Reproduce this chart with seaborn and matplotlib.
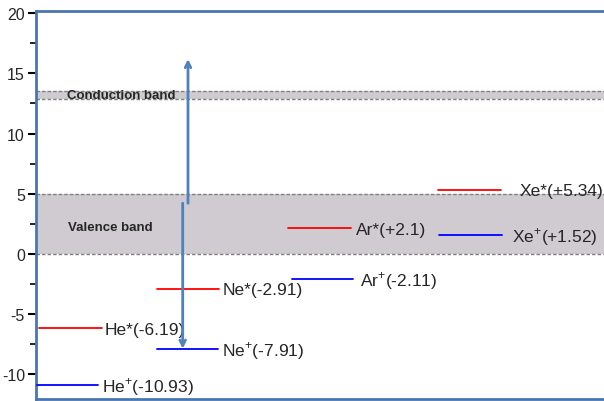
import matplotlib
matplotlib.use("Agg")
import matplotlib.pyplot as plt
import seaborn as sns
import pandas as pd

# Energy levels of excited (*) and ionized (+) rare-gas species, eV
species = ["He", "He", "Ne", "Ne", "Ar", "Ar", "Xe", "Xe"]
kinds = ["excited", "ion", "excited", "ion", "excited", "ion", "excited", "ion"]
energies = [-6.19, -10.93, -2.91, -7.91, 2.1, -2.11, 5.34, 1.52]
labels = [r"He*(-6.19)", r"He$^{+}$(-10.93)", r"Ne*(-2.91)", r"Ne$^{+}$(-7.91)",
          r"Ar*(+2.1)", r"Ar$^{+}$(-2.11)", r"Xe*(+5.34)", r"Xe$^{+}$(+1.52)"]

# Band edges, eV
valence_band = [0.0, 5.0]
conduction_band = [12.9, 13.5]

# Transition arrows (start, end energies)
arrow_up = [4.2, 16.2]
arrow_down = [4.2, -7.91]

# horizontal layout of each level segment (x start, x end, label x)
seg_x0 = [3.3, 0.7, 120.7, 120.7, 252.3, 255.7, 402.3, 403.3]
seg_x1 = [65.7, 62.3, 183.3, 182.3, 314.7, 317.3, 464.7, 465.7]
lab_x = [68.5, 66.5, 187, 186.5, 319.5, 323.5, 483.5, 476.5]

sns.set_theme(style="white")
plt.rcParams["font.family"] = ["Liberation Sans", "DejaVu Sans"]
plt.rcParams["mathtext.fontset"] = "custom"
plt.rcParams["mathtext.rm"] = "Liberation Sans"
plt.rcParams["axes.unicode_minus"] = False

fig = plt.figure(figsize=(6.04, 4.02), dpi=100)
ax = fig.add_axes([36 / 604, 1 - 400 / 402, 1.0, (400 - 12) / 402])
XMAX = 604.0
ax.set_xlim(0, XMAX)
ax.set_ylim(-12.1, 20.2)

# bands
band_color = "#cfcbd0"
dash_color = "#7f7f7f"
ax.axhspan(*valence_band, color=band_color, lw=0, zorder=0)
ax.axhspan(*conduction_band, color=band_color, lw=0, zorder=0)
for y in valence_band + conduction_band:
    ax.axhline(y, color=dash_color, lw=1.0, ls=(0, (2.5, 1.5)), zorder=1)

ax.text(31, 13.2, "Conduction band", fontsize=9.5, fontweight="bold",
        va="center", ha="left", zorder=3)
ax.text(32, 2.2, "Valence band", fontsize=9.5, fontweight="bold",
        va="center", ha="left", zorder=3)

# level segments
rows = []
for lab, k, e, a, b in zip(labels, kinds, energies, seg_x0, seg_x1):
    rows.append({"level": lab, "kind": k, "x": a, "E": e})
    rows.append({"level": lab, "kind": k, "x": b, "E": e})
df = pd.DataFrame(rows)
sns.lineplot(data=df, x="x", y="E", hue="kind", units="level", estimator=None,
             palette={"excited": "#ff0000", "ion": "#0000ff"}, lw=1.3,
             legend=False, ax=ax, zorder=4)

for lab, e, lx in zip(labels, energies, lab_x):
    ax.text(lx, e - 0.1, lab, fontsize=12.5, va="center", ha="left", zorder=5)

# transition arrows
arrow_color = "#4f81bd"
ax.annotate("", xy=(152, arrow_up[1]), xytext=(152, arrow_up[0]),
            arrowprops=dict(arrowstyle="->", color=arrow_color, lw=2,
                            mutation_scale=10, shrinkA=0, shrinkB=0), zorder=6)
ax.annotate("", xy=(146.7, arrow_down[1]), xytext=(146.7, arrow_down[0]),
            arrowprops=dict(arrowstyle="->", color=arrow_color, lw=2,
                            mutation_scale=10, shrinkA=0, shrinkB=0), zorder=6)

# axes styling
spine_color = "#4a76b0"
for side in ["left", "bottom", "top"]:
    ax.spines[side].set_color(spine_color)
    ax.spines[side].set_linewidth(2)
ax.spines["right"].set_visible(False)
ax.set_xticks([])
ax.set_yticks([-10, -5, 0, 5, 10, 15, 20])
ax.set_yticks([-7.5, -2.5, 2.5, 7.5, 12.5, 17.5], minor=True)
ax.tick_params(axis="y", which="major", direction="out", length=6, width=1.5,
               color="black", labelsize=11.5, left=True, pad=2)
ax.tick_params(axis="y", which="minor", direction="out", length=4, width=1.2,
               color="black", left=True)
ax.set_xlabel("")
ax.set_ylabel("")

fig.savefig("out.png", dpi=100)
